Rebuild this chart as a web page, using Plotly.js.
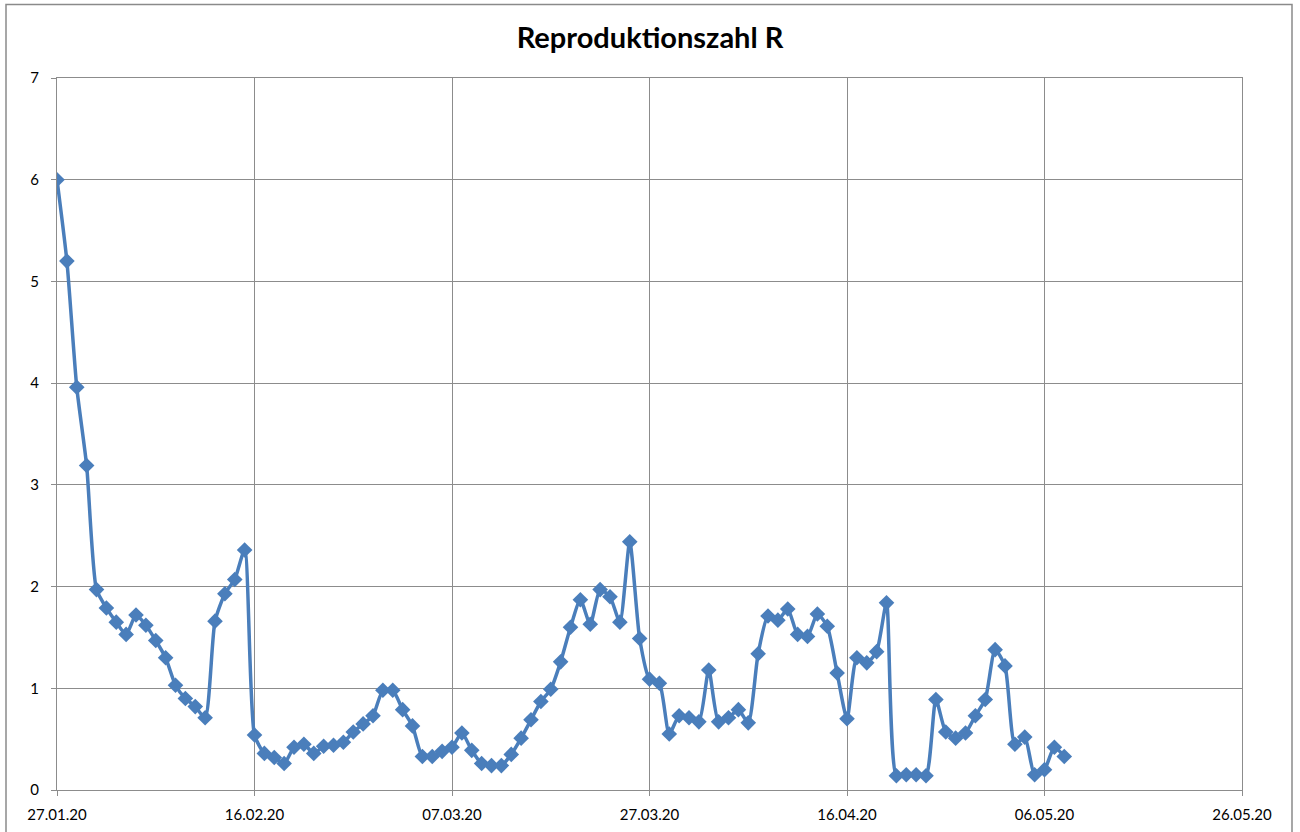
<!DOCTYPE html>
<html>
<head>
<meta charset="utf-8">
<script src="https://cdn.plot.ly/plotly-3.0.1.min.js"></script>
<style>
html,body{margin:0;padding:0;background:#fff;}
#chart{width:1300px;height:832px;}
</style>
</head>
<body>
<div id="chart"></div>
<script>
const dates = [
'2020-01-27','2020-01-28','2020-01-29','2020-01-30','2020-01-31',
'2020-02-01','2020-02-02','2020-02-03','2020-02-04','2020-02-05','2020-02-06','2020-02-07','2020-02-08','2020-02-09','2020-02-10',
'2020-02-11','2020-02-12','2020-02-13','2020-02-14','2020-02-15','2020-02-16','2020-02-17','2020-02-18','2020-02-19','2020-02-20',
'2020-02-21','2020-02-22','2020-02-23','2020-02-24','2020-02-25','2020-02-26','2020-02-27','2020-02-28','2020-02-29',
'2020-03-01','2020-03-02','2020-03-03','2020-03-04','2020-03-05','2020-03-06','2020-03-07','2020-03-08','2020-03-09','2020-03-10',
'2020-03-11','2020-03-12','2020-03-13','2020-03-14','2020-03-15','2020-03-16','2020-03-17','2020-03-18','2020-03-19','2020-03-20',
'2020-03-21','2020-03-22','2020-03-23','2020-03-24','2020-03-25','2020-03-26','2020-03-27','2020-03-28','2020-03-29','2020-03-30','2020-03-31',
'2020-04-01','2020-04-02','2020-04-03','2020-04-04','2020-04-05','2020-04-06','2020-04-07','2020-04-08','2020-04-09','2020-04-10',
'2020-04-11','2020-04-12','2020-04-13','2020-04-14','2020-04-15','2020-04-16','2020-04-17','2020-04-18','2020-04-19','2020-04-20',
'2020-04-21','2020-04-22','2020-04-23','2020-04-24','2020-04-25','2020-04-26','2020-04-27','2020-04-28','2020-04-29','2020-04-30',
'2020-05-01','2020-05-02','2020-05-03','2020-05-04','2020-05-05','2020-05-06','2020-05-07','2020-05-08'
];
const rValues = [
6.00,5.20,3.96,3.19,1.97,
1.79,1.65,1.53,1.72,1.62,1.47,1.30,1.03,0.90,0.82,
0.71,1.66,1.93,2.07,2.36,0.54,0.36,0.32,0.26,0.42,
0.45,0.36,0.43,0.44,0.47,0.57,0.65,0.73,0.98,
0.98,0.79,0.63,0.33,0.33,0.38,0.42,0.56,0.39,0.26,
0.24,0.24,0.35,0.51,0.69,0.87,0.99,1.26,1.60,1.87,
1.63,1.97,1.90,1.65,2.44,1.49,1.09,1.05,0.55,0.73,0.71,
0.67,1.18,0.67,0.71,0.79,0.66,1.34,1.71,1.67,1.78,
1.53,1.51,1.73,1.61,1.15,0.70,1.30,1.25,1.36,1.84,
0.14,0.15,0.15,0.14,0.89,0.57,0.51,0.56,0.73,0.89,
1.38,1.22,0.45,0.52,0.15,0.20,0.42,0.33
];
const tickDates = ['2020-01-27','2020-02-16','2020-03-07','2020-03-27','2020-04-16','2020-05-06','2020-05-26'];
const tickLabels = ['27.01.20','16.02.20','07.03.20','27.03.20','16.04.20','06.05.20','26.05.20'];
const titleText = 'Reproduktionszahl R';

const blue = '#4a7ebb';
const grid = '#8c8c8c';

const trace = {
  x: dates, y: rValues, type: 'scatter', mode: 'lines+markers',
  line: {color: blue, width: 3.5, shape: 'spline', smoothing: 0.6},
  marker: {symbol: 'diamond', size: 12, color: blue},
  hoverinfo: 'x+y'
};

const layout = {
  width: 1300, height: 832,
  margin: {l: 57, r: 58, t: 78, b: 42},
  paper_bgcolor: '#fff', plot_bgcolor: '#fff',
  showlegend: false,
  font: {family: 'Lato, "Open Sans", sans-serif', color: '#000', size: 15},
  title: {text: titleText, font: {family: 'Lato, "Open Sans", sans-serif', size: 29, color: '#000', weight: 'bold'},
          x: 0.5, xanchor: 'center', y: 1 - 38/832, yanchor: 'middle', yref: 'container'},
  xaxis: {
    type: 'date', range: ['2020-01-27', '2020-05-26'],
    tickmode: 'array', tickvals: tickDates, ticktext: tickLabels,
    showgrid: true, gridcolor: grid, gridwidth: 1,
    showline: true, linecolor: grid, linewidth: 1, mirror: true,
    ticks: 'outside', ticklen: 5, tickcolor: grid, ticklabelstandoff: 6,
    tickfont: {size: 15}, zeroline: false, fixedrange: true
  },
  yaxis: {
    range: [0, 7], dtick: 1, tick0: 0,
    showgrid: true, gridcolor: grid, gridwidth: 1,
    showline: true, linecolor: grid, linewidth: 1, mirror: true,
    ticks: 'outside', ticklen: 5, tickcolor: grid, ticklabelstandoff: 9,
    tickfont: {size: 15}, zeroline: false, fixedrange: true
  },
  shapes: [{
    type: 'rect', xref: 'paper', yref: 'paper',
    x0: (6 - 57) / 1185, x1: (1292 - 57) / 1185,
    y0: (790 - 845) / 712, y1: (790 - 4.5) / 712,
    line: {color: '#8a8a8a', width: 1.5}, fillcolor: 'rgba(0,0,0,0)', layer: 'below'
  }]
};

Plotly.newPlot('chart', [trace], layout, {displayModeBar: false, staticPlot: true});
</script>
</body>
</html>
